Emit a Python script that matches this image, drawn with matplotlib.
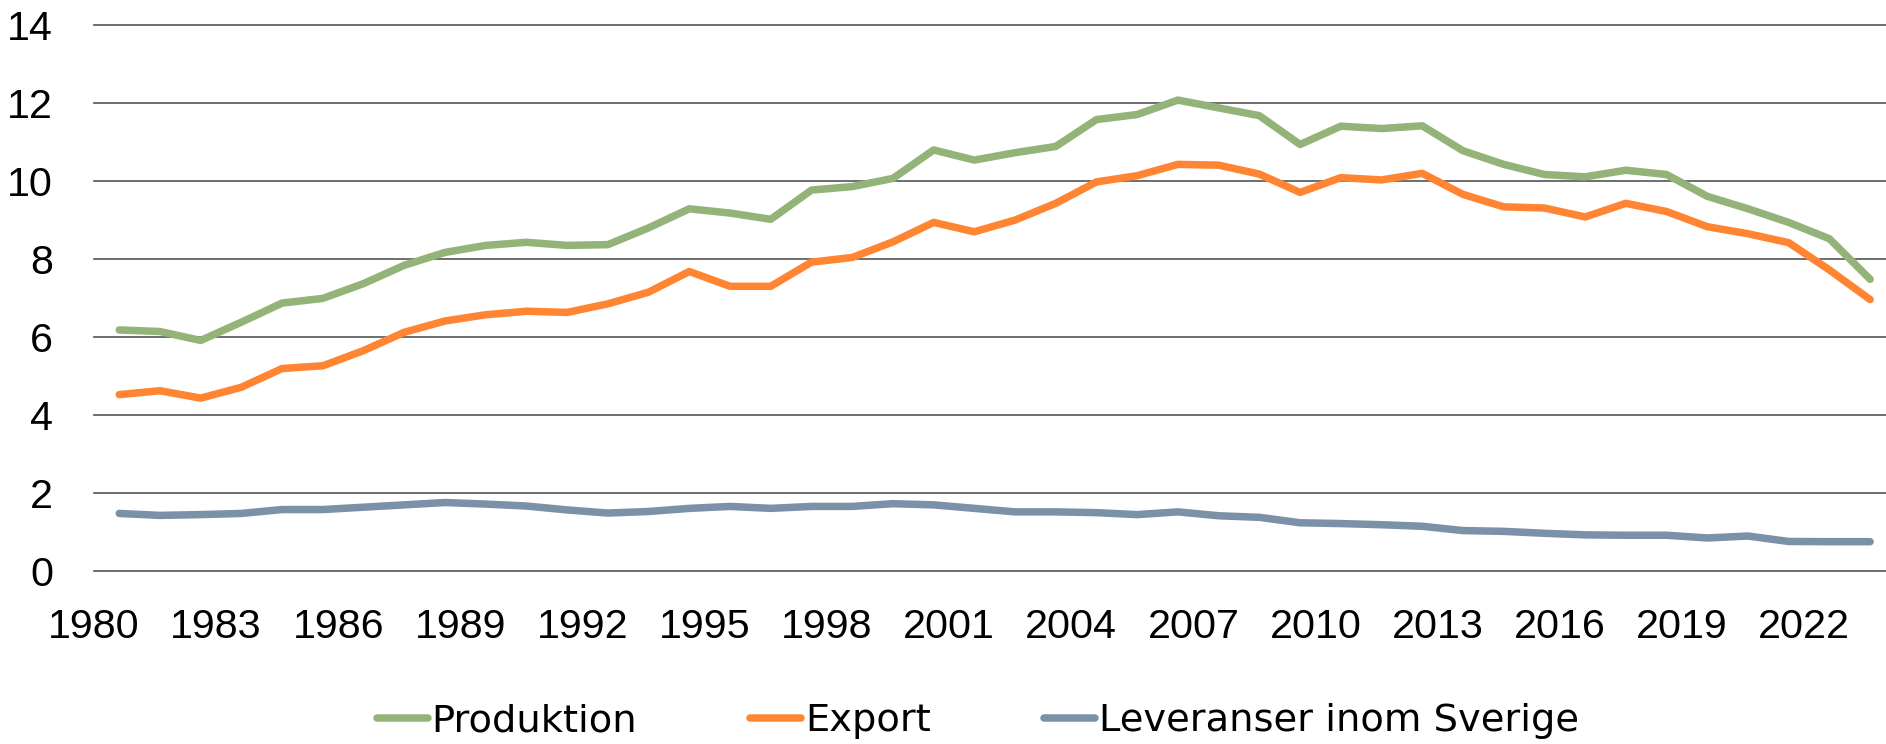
import matplotlib
matplotlib.use("Agg")
import matplotlib.pyplot as plt

years = list(range(1980, 2024))
produktion = [6.18, 6.14, 5.91, 6.38, 6.87, 6.99, 7.37, 7.84, 8.17, 8.35,
              8.43, 8.35, 8.37, 8.80, 9.29, 9.18, 9.02, 9.77, 9.86, 10.07,
              10.80, 10.54, 10.73, 10.89, 11.58, 11.71, 12.08, 11.88, 11.68, 10.94,
              11.41, 11.35, 11.42, 10.78, 10.43, 10.17, 10.11, 10.28, 10.17, 9.61,
              9.29, 8.94, 8.52, 7.48]
export = [4.52, 4.62, 4.43, 4.71, 5.19, 5.26, 5.65, 6.12, 6.41, 6.57,
          6.66, 6.63, 6.85, 7.15, 7.68, 7.30, 7.30, 7.92, 8.04, 8.44,
          8.94, 8.70, 9.00, 9.43, 9.98, 10.14, 10.43, 10.41, 10.18, 9.71,
          10.09, 10.03, 10.20, 9.66, 9.34, 9.31, 9.08, 9.43, 9.22, 8.83,
          8.65, 8.42, 7.72, 6.96]
leveranser = [1.47, 1.42, 1.44, 1.47, 1.57, 1.57, 1.63, 1.69, 1.75, 1.71,
              1.66, 1.56, 1.48, 1.52, 1.60, 1.65, 1.60, 1.65, 1.65, 1.72,
              1.69, 1.60, 1.51, 1.51, 1.49, 1.44, 1.51, 1.41, 1.37, 1.23,
              1.21, 1.18, 1.14, 1.03, 1.01, 0.96, 0.92, 0.91, 0.91, 0.84,
              0.89, 0.75, 0.745, 0.745]
series_names = ["Produktion", "Export", "Leveranser inom Sverige"]
tick_years = list(range(1980, 2023, 3))
tick_labels = [str(y) for y in tick_years]
y_ticks = list(range(0, 15, 2))

colors = ["#94B378", "#FF8533", "#7B91A8"]
label_offset = -0.62

W, H = 1886, 744
fig = plt.figure(figsize=(W / 100, H / 100), dpi=100)
left = 94 / W
bottom = (H - 570.7) / H
top = 1 - 25.3 / H
ax = fig.add_axes([left, bottom, 1 - left, top - bottom])

for s in ax.spines.values():
    s.set_visible(False)

for yv in y_ticks:
    ax.axhline(yv, color="#555555", lw=1.2, zorder=1, clip_on=False)

for vals, name, c in zip([produktion, export, leveranser], series_names, colors):
    ax.plot(years, vals, color=c, lw=5.4, label=name, zorder=3,
            solid_capstyle="round", solid_joinstyle="round")

ax.set_xlim(1979.5, 1979.5 + (W - 94) / 40.83)
ax.set_ylim(0, 14)
ax.set_yticks(y_ticks)
ax.set_yticklabels([str(v) for v in y_ticks])
ax.set_xticks([y + label_offset for y in tick_years])
ax.set_xticklabels(tick_labels)
ax.tick_params(axis="both", length=0, labelsize=29.7, labelcolor="black")
ax.tick_params(axis="y", pad=29.5)
ax.tick_params(axis="x", pad=26.5)
for lab in ax.get_xticklabels() + ax.get_yticklabels():
    lab.set_family("Liberation Sans")

leg = fig.legend(loc="center", bbox_to_anchor=(0.5183, (H - 721.0) / H), ncol=3,
                 frameon=False, prop={"family": "DejaVu Sans", "size": 27.6},
                 handlelength=1.33, handletextpad=0.1, columnspacing=2.95,
                 borderpad=0, borderaxespad=0)

fig.savefig("out.png", dpi=100)
